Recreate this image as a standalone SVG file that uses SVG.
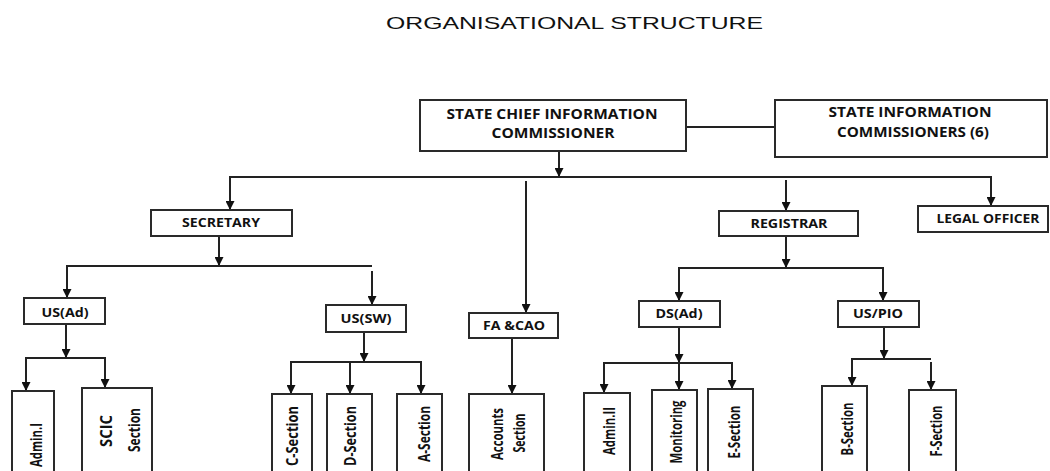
<svg xmlns="http://www.w3.org/2000/svg" width="1050" height="471" viewBox="0 0 1050 471">
<style>
  .box{fill:#fff;stroke:#2a2a2a;stroke-width:2}
  .t{font-family:"Open Sans","Liberation Sans",sans-serif;font-weight:bold;fill:#111;text-anchor:middle}
  .big{font-size:13.5px}
  .sm{font-size:12px}
  .rot{font-size:15.5px}
  .title{font-family:"Liberation Sans",Arial,sans-serif;font-size:17px;fill:#111}
  .c{stroke:#222;stroke-width:2;fill:none}
  .a{marker-end:url(#arr)}
</style>
<defs>
  <marker id="arr" markerUnits="userSpaceOnUse" markerWidth="10" markerHeight="9" refX="9" refY="4.5" orient="auto">
    <path d="M0,0 L9,4.5 L0,9 z" fill="#111"/>
  </marker>
</defs>
<rect width="1050" height="471" fill="#fff"/>
<text class="title" x="386" y="29" textLength="377" lengthAdjust="spacingAndGlyphs">ORGANISATIONAL  STRUCTURE</text>

<g id="connectors">
  <line class="c" x1="686" y1="127" x2="775" y2="127"/>
  <line class="c a" x1="559" y1="151" x2="559" y2="177"/>
  <line class="c" x1="229" y1="177" x2="992" y2="177"/>
  <line class="c a" x1="230" y1="177" x2="230" y2="210"/>
  <line class="c a" x1="526" y1="181" x2="526" y2="313"/>
  <line class="c a" x1="786" y1="180" x2="786" y2="211"/>
  <line class="c a" x1="991" y1="177" x2="991" y2="206"/>
  <line class="c a" x1="219" y1="236" x2="219" y2="266"/>
  <line class="c" x1="66" y1="266" x2="372" y2="266"/>
  <line class="c a" x1="67" y1="266" x2="67" y2="298"/>
  <line class="c a" x1="372" y1="271" x2="372" y2="305"/>
  <line class="c a" x1="66" y1="324" x2="66" y2="358"/>
  <line class="c" x1="25" y1="358" x2="106" y2="358"/>
  <line class="c a" x1="26" y1="358" x2="26" y2="391"/>
  <line class="c a" x1="105" y1="358" x2="105" y2="388"/>
  <line class="c a" x1="364" y1="332" x2="364" y2="362"/>
  <line class="c" x1="290" y1="362" x2="422" y2="362"/>
  <line class="c a" x1="291" y1="362" x2="291" y2="394"/>
  <line class="c a" x1="350" y1="362" x2="350" y2="394"/>
  <line class="c a" x1="421" y1="362" x2="421" y2="394"/>
  <line class="c a" x1="512" y1="338" x2="512" y2="394"/>
  <line class="c a" x1="786" y1="236" x2="786" y2="268"/>
  <line class="c" x1="678" y1="268" x2="884" y2="268"/>
  <line class="c a" x1="679" y1="268" x2="679" y2="301"/>
  <line class="c a" x1="883" y1="268" x2="883" y2="301"/>
  <line class="c a" x1="679" y1="327" x2="679" y2="363"/>
  <line class="c" x1="603" y1="363" x2="733" y2="363"/>
  <line class="c a" x1="604" y1="363" x2="604" y2="393"/>
  <line class="c a" x1="679" y1="363" x2="679" y2="390"/>
  <line class="c a" x1="732" y1="363" x2="732" y2="389"/>
  <line class="c a" x1="884" y1="327" x2="884" y2="359"/>
  <line class="c" x1="851" y1="359" x2="931" y2="359"/>
  <line class="c a" x1="852" y1="359" x2="852" y2="386"/>
  <line class="c a" x1="931" y1="362" x2="931" y2="390"/>
</g>

<g id="scic">
  <rect class="box" x="420" y="100" width="266" height="51"/>
  <text class="t big" x="552" y="119" textLength="211" lengthAdjust="spacingAndGlyphs">STATE CHIEF INFORMATION</text>
  <text class="t big" x="553" y="138" textLength="123" lengthAdjust="spacingAndGlyphs">COMMISSIONER</text>
</g>
<g id="sic">
  <rect class="box" x="775" y="100" width="272" height="57"/>
  <text class="t big" x="910" y="117" textLength="163" lengthAdjust="spacingAndGlyphs">STATE INFORMATION</text>
  <text class="t big" x="913" y="137" textLength="152" lengthAdjust="spacingAndGlyphs">COMMISSIONERS (6)</text>
</g>
<g id="secretary">
  <rect class="box" x="151" y="210" width="141" height="26"/>
  <text class="t sm" x="221" y="227" textLength="78" lengthAdjust="spacingAndGlyphs">SECRETARY</text>
</g>
<g id="fa_cao">
  <rect class="box" x="469" y="313" width="89" height="25"/>
  <text class="t sm" x="514" y="330" textLength="62" lengthAdjust="spacingAndGlyphs">FA &amp;CAO</text>
</g>
<g id="registrar">
  <rect class="box" x="719" y="211" width="139" height="25"/>
  <text class="t sm" x="789" y="228" textLength="77" lengthAdjust="spacingAndGlyphs">REGISTRAR</text>
</g>
<g id="legal_officer">
  <rect class="box" x="918" y="206" width="130" height="26"/>
  <text class="t sm" x="988" y="223" textLength="103" lengthAdjust="spacingAndGlyphs">LEGAL OFFICER</text>
</g>
<g id="us_ad">
  <rect class="box" x="24" y="298" width="81" height="26"/>
  <text class="t sm" x="65" y="317" textLength="47" lengthAdjust="spacingAndGlyphs">US(Ad)</text>
</g>
<g id="us_sw">
  <rect class="box" x="326" y="305" width="80" height="27"/>
  <text class="t sm" x="366" y="323" textLength="51" lengthAdjust="spacingAndGlyphs">US(SW)</text>
</g>
<g id="ds_ad">
  <rect class="box" x="639" y="301" width="81" height="26"/>
  <text class="t sm" x="679" y="318" textLength="47" lengthAdjust="spacingAndGlyphs">DS(Ad)</text>
</g>
<g id="us_pio">
  <rect class="box" x="838" y="301" width="81" height="26"/>
  <text class="t sm" x="878" y="318" textLength="50" lengthAdjust="spacingAndGlyphs">US/PIO</text>
</g>

<g id="admin_i">
  <rect class="box" x="12" y="391" width="42" height="90"/>
  <text class="t rot" transform="translate(42,445) rotate(-90)" textLength="44" lengthAdjust="spacingAndGlyphs">Admin.I</text>
</g>
<g id="scic_section">
  <rect class="box" x="82" y="388" width="70" height="93"/>
  <text class="t rot" transform="translate(112,431) rotate(-90)" textLength="32" lengthAdjust="spacingAndGlyphs">SCIC</text>
  <text class="t rot" transform="translate(140,430) rotate(-90)" textLength="44" lengthAdjust="spacingAndGlyphs">Section</text>
</g>
<g id="c_section">
  <rect class="box" x="272" y="394" width="40" height="87"/>
  <text class="t rot" transform="translate(298,436) rotate(-90)" textLength="60" lengthAdjust="spacingAndGlyphs">C-Section</text>
</g>
<g id="d_section">
  <rect class="box" x="327" y="394" width="45" height="87"/>
  <text class="t rot" transform="translate(356,436) rotate(-90)" textLength="60" lengthAdjust="spacingAndGlyphs">D-Section</text>
</g>
<g id="a_section">
  <rect class="box" x="397" y="394" width="45" height="87"/>
  <text class="t rot" transform="translate(430,434) rotate(-90)" textLength="56" lengthAdjust="spacingAndGlyphs">A-Section</text>
</g>
<g id="accounts_section">
  <rect class="box" x="469" y="394" width="75" height="87"/>
  <text class="t rot" transform="translate(503,434) rotate(-90)" textLength="52" lengthAdjust="spacingAndGlyphs">Accounts</text>
  <text class="t rot" transform="translate(525,433) rotate(-90)" textLength="39" lengthAdjust="spacingAndGlyphs">Section</text>
</g>
<g id="admin_ii">
  <rect class="box" x="584" y="393" width="46" height="88"/>
  <text class="t rot" transform="translate(615,431) rotate(-90)" textLength="48" lengthAdjust="spacingAndGlyphs">Admin.II</text>
</g>
<g id="monitoring">
  <rect class="box" x="652" y="390" width="45" height="91"/>
  <text class="t rot" transform="translate(682,432) rotate(-90)" textLength="63" lengthAdjust="spacingAndGlyphs">Monitoring</text>
</g>
<g id="e_section">
  <rect class="box" x="708" y="389" width="45" height="92"/>
  <text class="t rot" transform="translate(740,432) rotate(-90)" textLength="53" lengthAdjust="spacingAndGlyphs">E-Section</text>
</g>
<g id="b_section">
  <rect class="box" x="822" y="386" width="45" height="95"/>
  <text class="t rot" transform="translate(853,429) rotate(-90)" textLength="53" lengthAdjust="spacingAndGlyphs">B-Section</text>
</g>
<g id="f_section">
  <rect class="box" x="909" y="390" width="47" height="91"/>
  <text class="t rot" transform="translate(942,431) rotate(-90)" textLength="51" lengthAdjust="spacingAndGlyphs">F-Section</text>
</g>
</svg>
